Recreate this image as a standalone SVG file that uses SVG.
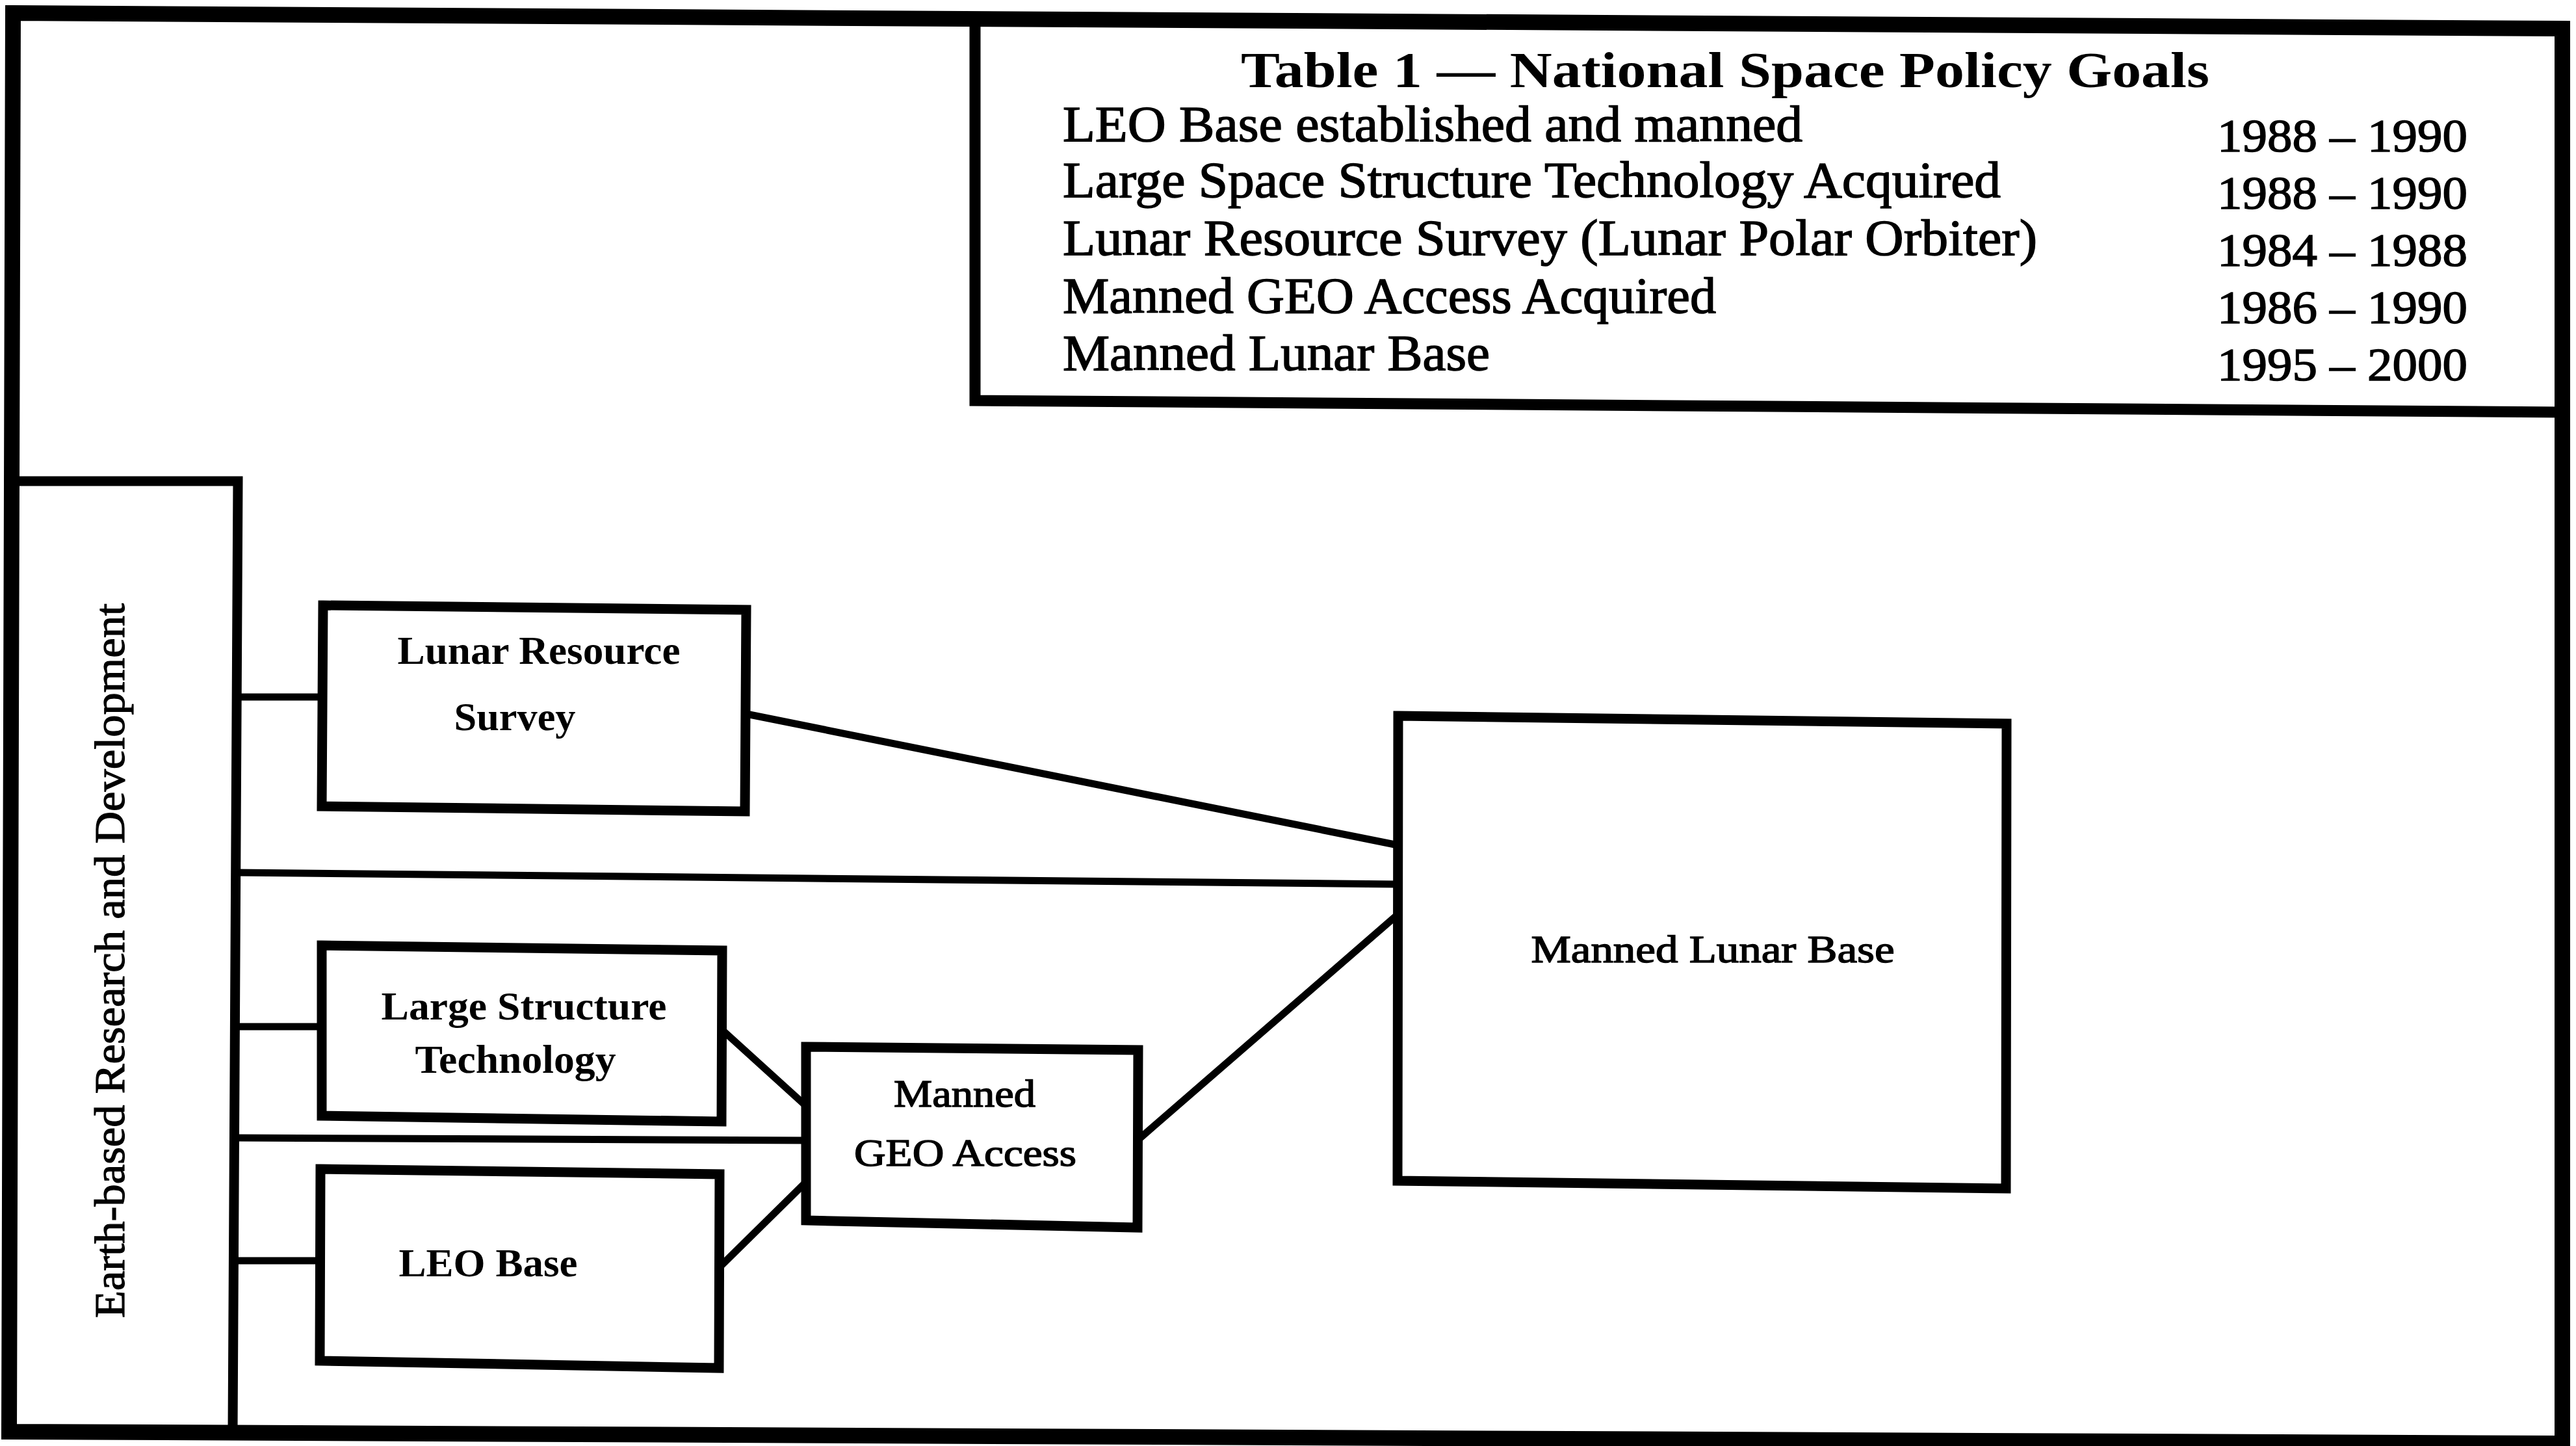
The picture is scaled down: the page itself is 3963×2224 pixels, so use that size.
<svg xmlns="http://www.w3.org/2000/svg" width="3963" height="2224" viewBox="0 0 3963 2224">
<style>
.frame{fill:none;stroke:#000;stroke-width:24;stroke-linejoin:miter}
.box{fill:none;stroke:#000;stroke-width:15;stroke-linejoin:miter}
.conn{fill:none;stroke:#000;stroke-width:11;stroke-linecap:butt}
.t{font-family:"Liberation Serif","Times New Roman",serif;fill:#000}
.bold{font-weight:bold}
.row{font-size:78px;stroke:#000;stroke-width:1.5}
.date{font-size:72px;stroke:#000;stroke-width:1.5}
.lbl{font-size:62px;font-weight:bold;text-anchor:middle}
.lbl2{font-size:60px;text-anchor:middle;stroke:#000;stroke-width:1.5}
</style>
<rect x="0" y="0" width="3963" height="2224" fill="#fff"/>
<g id="frame">
<path class="frame" d="M20,20 L3942,44 L3942,2220 L14,2202 Z"/>
</g>
<g id="table">
<path class="box" d="M1500,33 L1500,616 L3942,634" style="stroke-width:17"/>
<text class="t bold" x="1909" y="134" font-size="78" textLength="1490" lengthAdjust="spacingAndGlyphs">Table 1 — National Space Policy Goals</text>
<text class="t row" x="1635" y="217" textLength="1138" lengthAdjust="spacingAndGlyphs">LEO Base established and manned</text>
<text class="t row" x="1635" y="303" textLength="1443" lengthAdjust="spacingAndGlyphs">Large Space Structure Technology Acquired</text>
<text class="t row" x="1635" y="392" textLength="1499" lengthAdjust="spacingAndGlyphs">Lunar Resource Survey (Lunar Polar Orbiter)</text>
<text class="t row" x="1635" y="481" textLength="1005" lengthAdjust="spacingAndGlyphs">Manned GEO Access Acquired</text>
<text class="t row" x="1635" y="569" textLength="657" lengthAdjust="spacingAndGlyphs">Manned Lunar Base</text>
<text class="t date" x="3411" y="233" textLength="385" lengthAdjust="spacingAndGlyphs">1988 – 1990</text>
<text class="t date" x="3411" y="321" textLength="385" lengthAdjust="spacingAndGlyphs">1988 – 1990</text>
<text class="t date" x="3411" y="409" textLength="385" lengthAdjust="spacingAndGlyphs">1984 – 1988</text>
<text class="t date" x="3411" y="497" textLength="385" lengthAdjust="spacingAndGlyphs">1986 – 1990</text>
<text class="t date" x="3411" y="585" textLength="385" lengthAdjust="spacingAndGlyphs">1995 – 2000</text>
</g>
<g id="earth-rd">
<path class="box" d="M20,740 L366,740 L358,2202"/>
<text class="t" font-size="66" stroke="#000" stroke-width="1.2" transform="translate(191,2027) rotate(-90)" textLength="1099" lengthAdjust="spacingAndGlyphs">Earth-based Research and Development</text>
</g>
<g id="connectors">
<line class="conn" x1="364" y1="1072" x2="497" y2="1072"/>
<line class="conn" x1="363" y1="1342" x2="2151" y2="1360"/>
<line class="conn" x1="362" y1="1579" x2="495" y2="1579"/>
<line class="conn" x1="361" y1="1750" x2="1240" y2="1754"/>
<line class="conn" x1="360" y1="1939" x2="493" y2="1939"/>
<line class="conn" x1="1148" y1="1098" x2="2151" y2="1300"/>
<line class="conn" x1="1111" y1="1584" x2="1240" y2="1701"/>
<line class="conn" x1="1107" y1="1949" x2="1240" y2="1818"/>
<line class="conn" x1="1751" y1="1753" x2="2151" y2="1406"/>
</g>
<g id="lunar-resource-survey">
<polygon class="box" points="497,931 1148,938 1146,1248 495,1240"/>
<text class="t lbl" x="829" y="1021" textLength="435" lengthAdjust="spacingAndGlyphs">Lunar Resource</text>
<text class="t lbl" x="792" y="1123" textLength="187" lengthAdjust="spacingAndGlyphs">Survey</text>
</g>
<g id="large-structure-technology">
<polygon class="box" points="495,1454 1111,1462 1110,1725 495,1716"/>
<text class="t lbl" x="806" y="1568" textLength="439" lengthAdjust="spacingAndGlyphs">Large Structure</text>
<text class="t lbl" x="793" y="1650" textLength="309" lengthAdjust="spacingAndGlyphs">Technology</text>
</g>
<g id="leo-base">
<polygon class="box" points="493,1798 1107,1806 1106,2104 492,2093"/>
<text class="t lbl" x="751" y="1963" textLength="275" lengthAdjust="spacingAndGlyphs">LEO Base</text>
</g>
<g id="manned-geo-access">
<polygon class="box" points="1240,1610 1751,1615 1750,1888 1240,1877"/>
<text class="t lbl2" x="1484" y="1702" textLength="218" lengthAdjust="spacingAndGlyphs">Manned</text>
<text class="t lbl2" x="1485" y="1793" textLength="342" lengthAdjust="spacingAndGlyphs">GEO Access</text>
</g>
<g id="manned-lunar-base">
<polygon class="box" points="2151,1101 3087,1113 3086,1828 2150,1816"/>
<text class="t lbl2" x="2635" y="1480" textLength="559" lengthAdjust="spacingAndGlyphs">Manned Lunar Base</text>
</g>
</svg>
